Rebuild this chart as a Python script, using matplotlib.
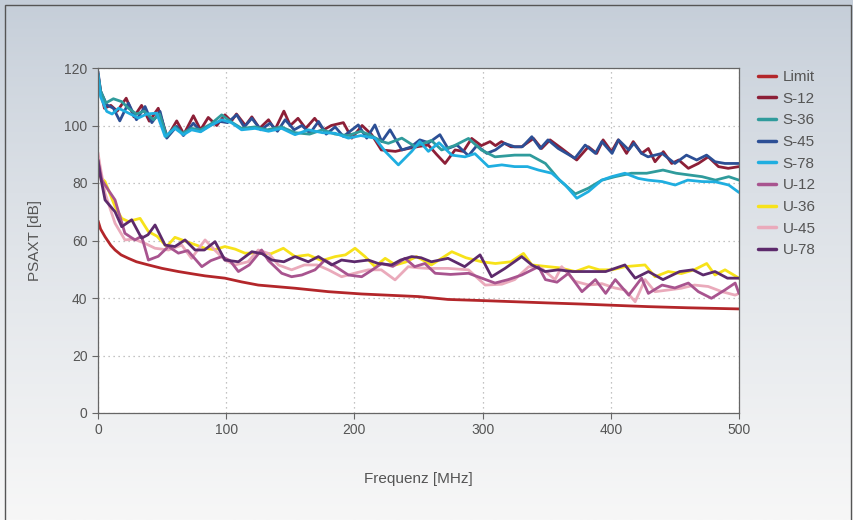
import numpy as np
import matplotlib.pyplot as plt
from matplotlib.patches import Rectangle

plt.rcParams['font.family'] = ['Liberation Sans', 'DejaVu Sans']

# Data (frequency in MHz, level in dB)
limit_f = [0, 2, 5.5, 10, 13.3, 18, 23.7, 30, 39.3, 50, 62.7, 75, 83.5, 99, 112, 125, 153.7, 179.7,
           205.7, 230, 250, 273, 300, 325, 350, 377, 400, 429, 460, 500]
limit_v = [66.9, 64, 61.3, 58.3, 56.7, 55, 53.8, 52.6, 51.5, 50.3, 49.2, 48.3, 47.7, 46.9, 45.6, 44.5,
           43.4, 42.2, 41.4, 40.9, 40.5, 39.5, 39.1, 38.7, 38.3, 37.9, 37.5, 37.0, 36.6, 36.2]

s12_f = [0, 2, 5, 10, 15, 22, 28, 34, 40, 47, 54, 61.4, 67, 74.4, 80, 86, 92.6, 99, 104, 108, 115, 120,
         126, 133, 138, 145, 150, 156, 162, 169, 176, 182, 191.4, 198, 206, 213.5, 221, 232, 242, 250,
         257.7, 264, 270.7, 278.5, 285, 291.5, 299, 305.8, 310, 314.7, 322, 330.5, 339.7, 346, 352.6,
         361.7, 373.4, 382.5, 389, 394, 400.6, 405.8, 412.3, 417.5, 424, 429.3, 434.5, 441, 447.5, 453,
         460.5, 468.3, 476, 484, 491.6, 500]
s12_v = [118, 112, 106, 107, 105, 109.5, 103, 107, 101.5, 106, 96, 101.6, 97, 103.4, 98.5, 102.8, 100,
         103.7, 101.5, 104, 100, 103, 99, 102, 98.5, 105, 100, 102.5, 99, 102.5, 98.5, 100, 101, 95.6,
         100, 96.8, 91.5, 91, 92, 92.7, 93.2, 90, 86.8, 91.5, 91, 95.5, 93, 94.4, 93, 94.4, 92.6, 92.6,
         95.5, 92, 95, 92, 88, 92.6, 90.3, 95, 90.9, 95, 90.3, 94.4, 90.3, 92, 87.4, 90.9, 86.8, 88,
         85.1, 86.8, 89.1, 85.7, 85.1, 85.7]

s36_f = [0, 2, 6, 12, 18.5, 23.7, 30, 36, 43.2, 48, 53.6, 60, 66, 73, 80, 88, 96.5, 103, 112, 122.5,
         132, 143, 153.7, 165, 175, 185, 195, 205, 213, 221.6, 226.5, 237, 247.3, 260, 268, 278, 289,
         299, 309.6, 325, 337, 349, 360, 372.3, 382.5, 393, 403.3, 416, 428, 440.7, 451, 461, 471.2,
         481.6, 492, 500]
s36_v = [117.6, 112, 107.8, 109.3, 108.3, 106, 104, 105, 102, 104, 96.2, 99.5, 97.3, 99, 98.5, 100.5,
         103.7, 101.5, 99, 99.5, 98.5, 99.5, 97.5, 97, 98.5, 97, 96.5, 98, 96.5, 94.4, 93.8, 95.6, 92.7,
         94.8, 91.5, 93, 95.5, 91.5, 89.1, 89.7, 89.7, 86.8, 81, 76.2, 78.2, 81, 82.2, 83.4, 83.4, 84.5,
         83.4, 82.8, 82.2, 81, 82.2, 81]

s45_f = [0, 2, 6.8, 12, 17, 23.7, 30, 36.7, 42, 48.4, 53.6, 61.4, 66.6, 74.4, 80, 87, 95.2, 101, 108.2,
         114, 120, 127, 134.2, 140, 146, 153, 159, 165.4, 172, 178, 185, 191.4, 203, 209.6, 216, 221.3,
         227.8, 237, 244, 251, 258, 266.7, 273, 280, 289, 295.5, 303.3, 310, 317, 325, 331, 338.4, 345,
         351, 359, 372, 380, 388, 393, 401, 406, 414, 418, 424, 429, 440, 450, 459, 467, 474.7, 481.3,
         489, 500]
s45_v = [118.8, 112, 107.2, 106, 101.6, 107.8, 102, 106.6, 101, 104.9, 95.6, 99.7, 96.5, 100.8, 98, 100,
         101.4, 101, 103.7, 99.5, 102.5, 98.5, 100.8, 98, 102, 98.5, 100, 97.3, 101.4, 97, 99.5, 96.2,
         100.2, 95.6, 100.2, 94.4, 98.5, 91.5, 92.5, 95, 94, 96.8, 92, 93.2, 89.5, 93, 90.3, 91.5, 93.8,
         92.6, 92.6, 96.1, 92, 95, 92, 88.6, 93.2, 90.3, 94.4, 90.3, 95, 91.5, 93.8, 90.3, 89.1, 90.3,
         86.8, 89.7, 88, 89.7, 87.4, 86.8, 86.8]

s78_f = [0, 2, 6.8, 11, 16, 23, 31.5, 38, 45.8, 52.3, 60, 66.6, 73, 80, 88.7, 96.5, 104, 112, 122.5,
         133, 143.3, 153.7, 164, 175, 185, 195.3, 205, 216, 224, 234.3, 244.7, 251, 257.7, 266, 276,
         286.3, 294, 304.5, 315, 325, 335, 343.6, 354, 364.5, 373.5, 382.5, 393, 400.6, 411, 421.4, 429,
         440, 450.2, 460, 471, 481.6, 492, 500]
s78_v = [118, 110, 104.9, 104, 106, 104.5, 102.6, 104, 104.3, 96.2, 99, 96.8, 98.5, 97.8, 100.2, 102,
         101, 98.5, 99, 98, 99, 96.8, 98.5, 97.5, 97.3, 95.6, 96.5, 95.6, 91, 86.3, 91, 94.4, 91, 94,
         89.7, 89.1, 90.2, 85.7, 86.3, 85.7, 85.7, 84.5, 83.4, 79.3, 74.7, 77, 81, 82.2, 83.4, 81.6, 81,
         80.5, 79.3, 81, 80.5, 80.4, 79.3, 76.7]

u12_f = [0, 2.9, 8, 13.3, 21, 28.8, 34, 39.3, 47, 54.9, 62.7, 70, 81, 88, 96.5, 103, 109.5, 118, 127.6,
         133, 143.3, 151, 159, 169.3, 177, 185, 195.3, 205.7, 213, 221.3, 230, 239.5, 247, 255, 263,
         275, 289, 299.3, 309.7, 320, 330.5, 343.6, 349, 358, 367, 377.5, 388, 396, 403.5, 414, 424,
         429.3, 440, 450, 460.5, 468.3, 478.5, 489, 497, 500]
u12_v = [88, 81.1, 77.6, 74.1, 62.5, 60.2, 61.5, 53.2, 54.5, 57.9, 55.6, 56.5, 50.9, 53, 54.4, 53, 49.2,
         51.5, 56.7, 53, 48.6, 47.4, 48, 49.8, 53.2, 51, 48, 47.4, 49.5, 52, 51, 53.8, 50.9, 52, 48.6,
         48.2, 48.6, 46.9, 45.2, 46.4, 48, 50.9, 46.4, 45.5, 48.6, 42.2, 46.4, 41.6, 46.4, 41, 46.9,
         41.6, 44.5, 43.5, 45.2, 42.2, 39.9, 42.8, 45.2, 41.6]

u36_f = [0, 2, 5.5, 13.3, 18.5, 23.7, 32.8, 39.3, 46, 53.6, 60, 69.2, 76, 83.5, 91, 99, 107, 114.6, 125,
         135, 144.6, 153.7, 164, 174.5, 185, 193, 200.5, 208.3, 216, 224, 232, 240, 248.5, 260, 276,
         287, 299.3, 310, 322, 331.9, 338.4, 349, 360, 372.4, 382.8, 391, 401, 411, 426.7, 434.5, 444.8,
         455, 465, 474.8, 481.3, 489.1, 500]
u36_v = [84, 82, 80.5, 71.8, 67.7, 66.6, 67.7, 63.1, 61.5, 57.9, 61.1, 59.6, 58.5, 57.3, 56.8, 57.9, 57,
         55.6, 55.6, 55.4, 57.3, 54.4, 55, 53, 54.4, 55, 57.3, 54.4, 50.9, 53.8, 51.5, 52.5, 54.4, 51.5,
         56.1, 54, 52.6, 52, 52.6, 55.5, 51.5, 51, 50.5, 49.2, 50.9, 49.8, 49.8, 50.9, 51.5, 47.4, 49.2,
         48.5, 49.8, 52, 48, 49.8, 46.9]

u45_f = [0, 1.6, 5.5, 13.3, 21, 28, 36.7, 44.5, 55, 65.3, 73, 83.5, 91, 99, 106.9, 117, 125, 133, 140.7,
         151, 161, 171, 179.7, 190, 200, 210.9, 221, 231.7, 242, 250, 257.7, 273, 289, 302, 315, 325,
         336, 346, 356.5, 361.7, 372, 383, 393, 403, 411, 419, 426.7, 434.5, 445, 455, 465.3, 476, 486.7,
         497, 500]
u45_v = [90.5, 86, 76.4, 66, 60.2, 60.5, 59, 57.3, 56.7, 58.4, 53.8, 60.2, 56.7, 53.2, 51.5, 52.6, 56.7,
         55.5, 51.5, 49.8, 51.5, 51.5, 49.8, 47.4, 48.6, 49.8, 49.8, 46.3, 50.9, 50.5, 50.3, 50.3, 49.8,
         44.5, 44.8, 46.4, 50.9, 50.3, 46.4, 50.9, 45.8, 44.5, 45, 43.5, 42.8, 38.7, 46.4, 42.2, 42.8,
         43.4, 44.5, 44, 42.2, 41, 41.6]

u78_f = [0, 1.6, 5.5, 13.3, 18.5, 26.3, 34, 39, 44.5, 52.3, 60, 67.9, 75.7, 83, 91.3, 99, 109.5, 120,
         128, 135.5, 145, 153.7, 164, 171.9, 182.3, 190, 200, 210.9, 218.6, 229, 236, 244.7, 252, 260,
         273, 286, 298, 307, 317.5, 330.5, 338.4, 348.7, 359, 370, 382.5, 396, 411, 419, 429.3, 440.7,
         453.7, 464, 472, 481.3, 491, 500]
u78_v = [88, 83, 74.1, 70, 64.8, 67.2, 60.8, 62, 65.4, 58.4, 57.9, 60.2, 56.7, 56.7, 59.6, 53.2, 52.6,
         56.1, 55.4, 53.2, 52.6, 54.4, 52.6, 54.4, 51.5, 53.2, 52.6, 53.2, 52, 51.5, 53.2, 54.4, 54, 52.6,
         53.8, 50.9, 55, 47.4, 50.3, 54.4, 51.5, 49.2, 49.8, 49.2, 49.2, 49.2, 51.5, 46.9, 49.2, 46.4,
         49.2, 49.8, 48, 49.2, 46.9, 46.9]

names = ['Limit', 'S-12', 'S-36', 'S-45', 'S-78', 'U-12', 'U-36', 'U-45', 'U-78']
colors = ['#b3262a', '#8c1f37', '#2f9b9c', '#2c4f95', '#1faee0',
          '#a8548f', '#f7e21a', '#eaaabb', '#5d2a6c']
series = [(limit_f, limit_v), (s12_f, s12_v), (s36_f, s36_v), (s45_f, s45_v), (s78_f, s78_v),
          (u12_f, u12_v), (u36_f, u36_v), (u45_f, u45_v), (u78_f, u78_v)]
# drawing order (first drawn = bottom)
draw_order = [1, 3, 2, 4, 0, 6, 7, 5, 8]

fig = plt.figure(figsize=(8.54, 5.2), dpi=100)

# page background: gray-blue gradient fading to white
bg = fig.add_axes([0, 0, 1, 1], zorder=-10)
grad = np.linspace(0, 1, 256).reshape(-1, 1)
top = np.array([196, 205, 216]) / 255
bottom = np.array([247, 247, 247]) / 255
img = top + (bottom - top) * grad[:, :, None] ** 0.8
bg.imshow(img, aspect='auto', extent=[0, 1, 0, 1])
bg.add_patch(Rectangle((0.006, -0.01), 0.99, 1.0, fill=False, edgecolor='#555555', lw=1.0))
bg.set_xlim(0, 1)
bg.set_ylim(0, 1)
bg.axis('off')

ax = fig.add_axes([98 / 854, 1 - 413 / 520, 641 / 854, 345 / 520])
ax.set_facecolor('white')

lines = {}
for i in draw_order:
    f, v = series[i]
    lines[i], = ax.plot(f, v, color=colors[i], lw=2.0, solid_joinstyle='round',
                        solid_capstyle='round', label=names[i])

ax.set_xlim(0, 500)
ax.set_ylim(0, 120)
ax.set_xticks([0, 100, 200, 300, 400, 500])
ax.set_yticks([0, 20, 40, 60, 80, 100, 120])
ax.grid(True, color='#b0b0b0', linestyle=(0, (1, 3)), linewidth=0.9)
ax.set_axisbelow(True)
for side in ['left', 'bottom', 'top', 'right']:
    ax.spines[side].set_color('#666666')
    ax.spines[side].set_linewidth(0.9)
ax.tick_params(axis='both', colors='#666666', labelcolor='#555555', labelsize=10, length=4, width=0.8)

ax.set_xlabel('Frequenz [MHz]', fontsize=11, color='#555555', labelpad=25)
ax.set_ylabel('PSAXT [dB]', fontsize=11, color='#555555', labelpad=16)

handles = [lines[i] for i in range(len(names))]
leg = fig.legend(handles, names, loc='upper left', bbox_to_anchor=(752 / 854, 1 - 64 / 520),
                 frameon=False, fontsize=11, handlelength=1.2, handletextpad=0.4,
                 labelspacing=0.5, borderaxespad=0)
for t in leg.get_texts():
    t.set_color('#555555')
for h in leg.legend_handles:
    h.set_linewidth(2.5)

fig.savefig('out.png', dpi=100)
